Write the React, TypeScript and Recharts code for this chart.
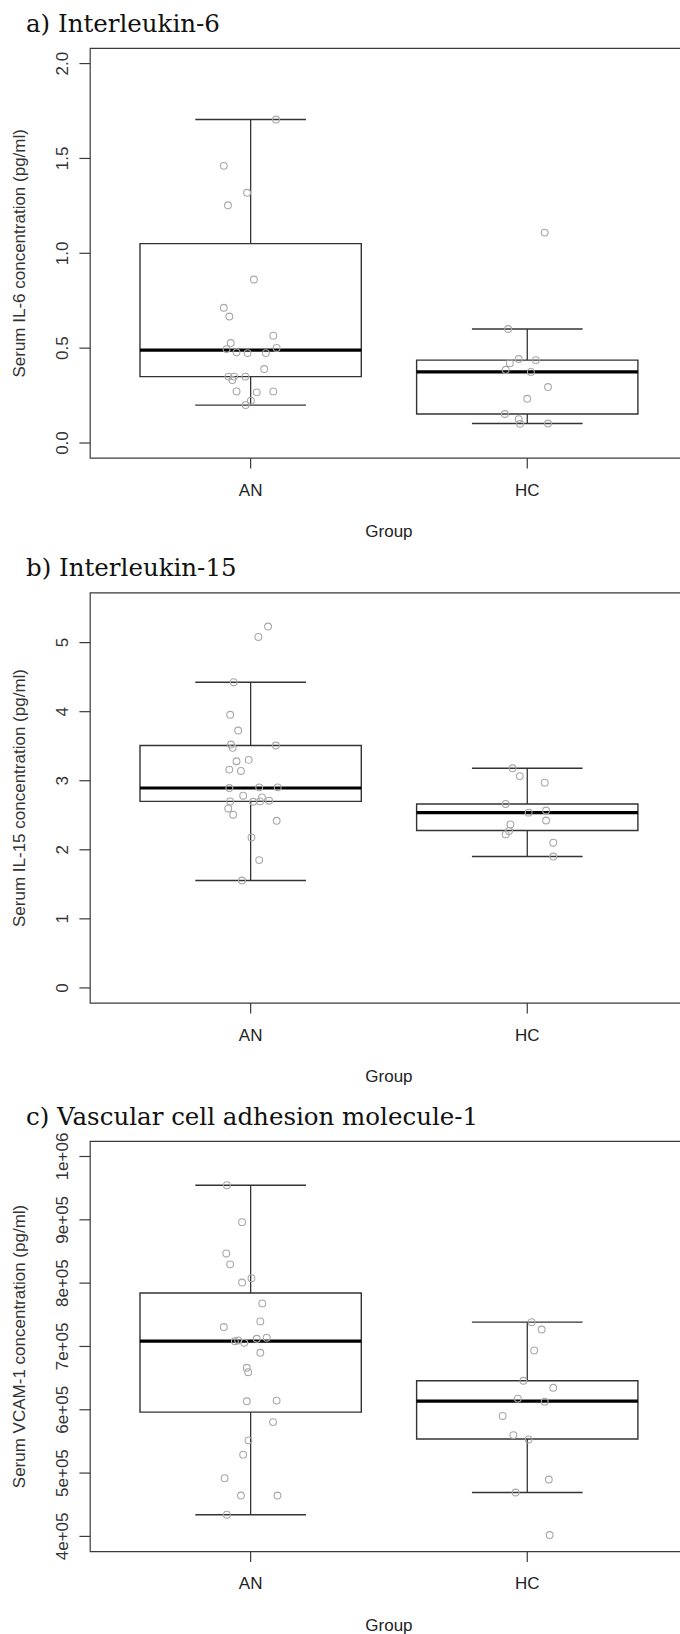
import { ComposedChart, ReferenceArea, ReferenceLine, Scatter, XAxis, YAxis } from 'recharts'

const groups = ['AN', 'HC']
const groupPos = [1, 2]

// a) IL-6 (pg/ml)
const il6AnStats = [0.2, 0.35, 0.49, 1.051, 1.705]
const il6HcStats = [0.103, 0.153, 0.375, 0.437, 0.601]
const il6AnX = [1.092, 0.903, 0.987, 0.918, 1.012, 0.903, 0.923, 1.082, 0.928, 0.913, 0.949, 0.989, 1.055, 1.094, 1.049, 0.92, 0.934, 0.94, 0.981, 0.949, 1.022, 1.082, 1.001, 0.982]
const il6AnY = [1.705, 1.461, 1.319, 1.253, 0.862, 0.713, 0.667, 0.566, 0.527, 0.495, 0.478, 0.474, 0.474, 0.501, 0.39, 0.35, 0.332, 0.35, 0.35, 0.272, 0.267, 0.272, 0.223, 0.2]
const il6HcX = [2.063, 1.931, 1.969, 2.031, 1.937, 1.922, 2.013, 2.075, 2.0, 1.919, 1.969, 1.974, 2.075]
const il6HcY = [1.109, 0.601, 0.443, 0.437, 0.421, 0.386, 0.375, 0.295, 0.233, 0.153, 0.126, 0.101, 0.103]
const il6Ticks = [0, 0.5, 1, 1.5, 2]
const il6TickLabels = ['0.0', '0.5', '1.0', '1.5', '2.0']

// b) IL-15 (pg/ml)
const il15AnStats = [1.555, 2.701, 2.895, 3.51, 4.427]
const il15HcStats = [1.902, 2.28, 2.538, 2.664, 3.18]
const il15AnX = [1.063, 1.028, 0.939, 0.926, 0.955, 0.929, 0.935, 1.091, 0.949, 0.993, 0.923, 0.965, 0.923, 1.031, 1.098, 0.973, 1.041, 1.067, 1.034, 1.009, 0.926, 0.919, 0.937, 1.094, 1.003, 1.031, 0.969]
const il15AnY = [5.233, 5.082, 4.427, 3.955, 3.727, 3.524, 3.476, 3.51, 3.282, 3.302, 3.161, 3.142, 2.895, 2.904, 2.904, 2.783, 2.759, 2.711, 2.701, 2.696, 2.701, 2.599, 2.508, 2.42, 2.179, 1.851, 1.555]
const il15HcX = [1.947, 1.973, 2.063, 1.922, 2.068, 2.005, 2.068, 1.939, 1.934, 1.922, 2.094, 2.094]
const il15HcY = [3.18, 3.067, 2.972, 2.664, 2.569, 2.538, 2.424, 2.368, 2.273, 2.223, 2.103, 1.902]
const il15Ticks = [0, 1, 2, 3, 4, 5]
const il15TickLabels = ['0', '1', '2', '3', '4', '5']

// c) VCAM-1 (pg/ml)
const vcamAnStats = [434300, 596300, 708400, 784400, 954700]
const vcamHcStats = [469300, 553800, 613500, 645800, 738400]
const vcamAnX = [0.914, 0.969, 0.912, 0.926, 1.003, 0.969, 1.042, 1.035, 0.903, 0.943, 0.955, 0.977, 1.022, 1.058, 1.035, 0.986, 0.991, 0.986, 1.094, 1.081, 0.992, 0.973, 0.906, 0.965, 1.097, 0.914]
const vcamAnY = [954700, 896300, 846900, 829700, 807800, 800900, 768000, 739600, 730600, 708400, 709500, 705800, 712200, 713800, 690000, 666300, 659300, 613400, 614500, 580500, 551700, 529100, 492000, 464500, 464500, 434300]
const vcamHcX = [2.016, 2.052, 2.025, 1.986, 2.094, 1.966, 2.063, 1.911, 1.95, 2.005, 2.078, 1.958, 2.081]
const vcamHcY = [738400, 726800, 693800, 645800, 634800, 617600, 612800, 590200, 560000, 553100, 489900, 469300, 402100]
const vcamTicks = [400000, 500000, 600000, 700000, 800000, 900000, 1000000]
const vcamTickLabels = ['4e+05', '5e+05', '6e+05', '7e+05', '8e+05', '9e+05', '1e+06']

const SANS = '"Liberation Sans", Arial, sans-serif'
const SERIF = '"DejaVu Serif", serif'
const CHART_W = 700
const PLOT_LEFT = 90.2
const PLOT_RIGHT = 687.7
const Y_AXIS_W = 40
const X_AXIS_H = 30

const toPoints = (xs: number[], ys: number[]) => xs.map((x, i) => ({ x, y: ys[i] }))

type PanelProps = {
  title: string
  yLabel: string
  top: number
  height: number
  plotTop: number
  plotBottom: number
  domain: [number, number]
  ticks: number[]
  tickLabels: string[]
  stats: number[][]
  points: { x: number; y: number }[]
}

function Panel({ title, yLabel, top, height, plotTop, plotBottom, domain, ticks, tickLabels, stats, points }: PanelProps) {
  const plotMid = (plotTop + plotBottom) / 2
  return (
    <div style={{ position: 'absolute', left: 0, top, width: CHART_W, height }}>
      <ComposedChart
        width={CHART_W}
        height={height}
        margin={{ top: plotTop, right: CHART_W - PLOT_RIGHT, bottom: height - plotBottom - X_AXIS_H, left: PLOT_LEFT - Y_AXIS_W }}
      >
        <XAxis
          type="number"
          dataKey="x"
          domain={[0.42, 2.58]}
          allowDataOverflow
          ticks={groupPos}
          height={X_AXIS_H}
          axisLine={false}
          tickSize={10.3}
          tickLine={{ stroke: '#3a3a3a', strokeWidth: 1.2 }}
          tick={(p: any) => (
            <text x={p.x} y={plotBottom + 37.5} textAnchor="middle" fontSize={17} fontFamily={SANS} fill="#222">
              {groups[groupPos.indexOf(p.payload.value)]}
            </text>
          )}
        />
        <YAxis
          type="number"
          dataKey="y"
          domain={domain}
          allowDataOverflow
          ticks={ticks}
          interval={0}
          width={Y_AXIS_W}
          axisLine={false}
          tickSize={10.8}
          tickLine={{ stroke: '#3a3a3a', strokeWidth: 1.2 }}
          tick={(p: any) => (
            <text x={68.5} y={p.y} transform={`rotate(-90 68.5 ${p.y})`} textAnchor="middle" fontSize={17} fontFamily={SANS} fill="#333">
              {tickLabels[ticks.indexOf(p.payload.value)]}
            </text>
          )}
        />
        <ReferenceArea x1={0.42} x2={2.58} y1={domain[0]} y2={domain[1]} fill="none" fillOpacity={0} stroke="#3a3a3a" strokeWidth={1.2} ifOverflow="visible" />
        {stats.map((s, i) => {
          const p = groupPos[i]
          return [
            <ReferenceArea key={`box${i}`} x1={p - 0.4} x2={p + 0.4} y1={s[1]} y2={s[3]} fill="none" fillOpacity={0} stroke="#333" strokeWidth={1.4} ifOverflow="visible" />,
            <ReferenceLine key={`wu${i}`} segment={[{ x: p, y: s[3] }, { x: p, y: s[4] }]} stroke="#333" strokeWidth={1.3} ifOverflow="visible" />,
            <ReferenceLine key={`wl${i}`} segment={[{ x: p, y: s[0] }, { x: p, y: s[1] }]} stroke="#333" strokeWidth={1.3} ifOverflow="visible" />,
            <ReferenceLine key={`cu${i}`} segment={[{ x: p - 0.2, y: s[4] }, { x: p + 0.2, y: s[4] }]} stroke="#333" strokeWidth={1.4} ifOverflow="visible" />,
            <ReferenceLine key={`cl${i}`} segment={[{ x: p - 0.2, y: s[0] }, { x: p + 0.2, y: s[0] }]} stroke="#333" strokeWidth={1.4} ifOverflow="visible" />,
            <ReferenceLine key={`md${i}`} segment={[{ x: p - 0.4, y: s[2] }, { x: p + 0.4, y: s[2] }]} stroke="#000" strokeWidth={3.2} ifOverflow="visible" />,
          ]
        })}
        <Scatter
          data={points}
          isAnimationActive={false}
          shape={(p: any) => <circle cx={p.cx} cy={p.cy} r={3.4} fill="none" stroke="#a8a8a8" strokeWidth={1.1} />}
        />
      </ComposedChart>
      <svg width={680} height={height} style={{ position: 'absolute', left: 0, top: 0, pointerEvents: 'none' }}>
        <text x={26} y={plotTop - 16.7} fontSize={24.5} fontFamily={SERIF} fill="#111">
          {title}
        </text>
        <text x={25} y={plotMid} transform={`rotate(-90 25 ${plotMid})`} textAnchor="middle" fontSize={17} fontFamily={SANS} fill="#333">
          {yLabel}
        </text>
        <text x={(PLOT_LEFT + PLOT_RIGHT) / 2} y={plotBottom + 79} textAnchor="middle" fontSize={17} fontFamily={SANS} fill="#222">
          Group
        </text>
      </svg>
    </div>
  )
}

export default function App() {
  return (
    <div style={{ position: 'absolute', left: 0, top: 0, width: 680, height: 1634, overflow: 'hidden', background: '#fff' }}>
      <Panel
        title="a) Interleukin-6"
        yLabel="Serum IL-6 concentration (pg/ml)"
        top={0}
        height={545}
        plotTop={48.4}
        plotBottom={458.2}
        domain={[-0.08, 2.08]}
        ticks={il6Ticks}
        tickLabels={il6TickLabels}
        stats={[il6AnStats, il6HcStats]}
        points={[...toPoints(il6AnX, il6AnY), ...toPoints(il6HcX, il6HcY)]}
      />
      <Panel
        title="b) Interleukin-15"
        yLabel="Serum IL-15 concentration (pg/ml)"
        top={545}
        height={545}
        plotTop={47.9}
        plotBottom={458.1}
        domain={[-0.22, 5.72]}
        ticks={il15Ticks}
        tickLabels={il15TickLabels}
        stats={[il15AnStats, il15HcStats]}
        points={[...toPoints(il15AnX, il15AnY), ...toPoints(il15HcX, il15HcY)]}
      />
      <Panel
        title="c) Vascular cell adhesion molecule-1"
        yLabel="Serum VCAM-1 concentration (pg/ml)"
        top={1090}
        height={544}
        plotTop={51.3}
        plotBottom={461.6}
        domain={[376000, 1024000]}
        ticks={vcamTicks}
        tickLabels={vcamTickLabels}
        stats={[vcamAnStats, vcamHcStats]}
        points={[...toPoints(vcamAnX, vcamAnY), ...toPoints(vcamHcX, vcamHcY)]}
      />
    </div>
  )
}
